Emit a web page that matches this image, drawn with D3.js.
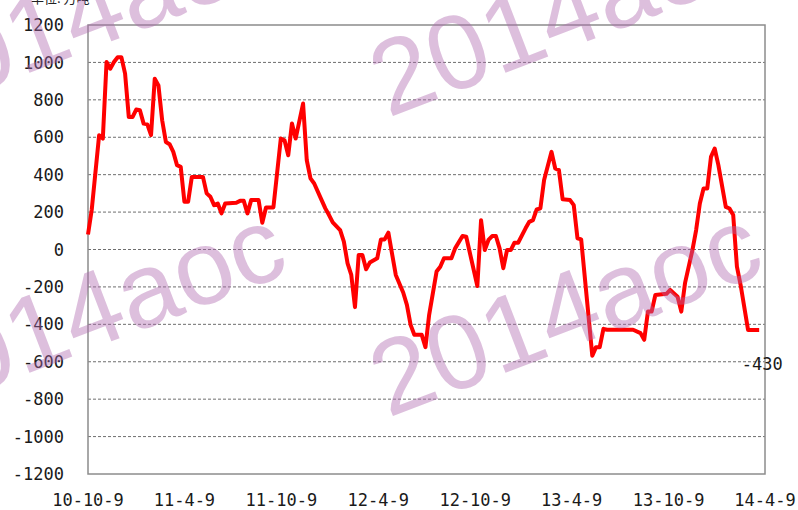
<!DOCTYPE html>
<html lang="zh">
	<head>
		<meta charset="utf-8">
		<title>D3: weekly balance line</title>
		<script type="text/javascript" src="https://cdn.jsdelivr.net/npm/d3@7/dist/d3.min.js"></script>
		<style type="text/css">
			body { margin: 0; background: #fff; }
			text { font-family: "DejaVu Sans Mono", monospace; }
		</style>
	</head>
	<body>
		<script type="text/javascript">

			//Width and height
			let w = 798;
			let h = 510;

			//Data: week number since 2010-10-09, and value (万吨)
			let startDate = "2010-10-09";
			let endDate = "2014-04-09";
			let weeks = [
				0, 1, 3, 4, 5, 6, 7, 8, 9, 10,
				11, 12, 13, 14, 15, 16, 17, 18, 19, 20,
				21, 22, 23, 24, 25, 26, 27, 28, 31, 32,
				33, 34, 35, 36, 37, 40, 41, 42, 43, 44,
				46, 47, 48, 50, 52, 53, 54, 55, 56, 58,
				59, 60, 61, 63, 64, 65, 66, 68, 69, 70,
				71, 72, 73, 74, 75, 76, 78, 79, 80, 81,
				83, 85, 86, 87, 88, 90, 91, 92, 94, 95,
				96, 98, 99, 101, 102, 105, 106, 107, 108, 109,
				110, 111, 112, 113, 114, 115, 116, 118, 119, 120,
				121, 122, 123, 125, 126, 127, 128, 130, 131, 132,
				133, 136, 137, 138, 139, 140, 147, 149, 150, 151,
				152, 153, 156, 157, 159, 160, 161, 163, 164, 165,
				166, 167, 168, 169, 170, 172, 173, 174, 175, 176,
				178, 181
			];
			let values = [
				80, 211, 611, 593, 1002, 966, 1002, 1028, 1028, 940,
				708, 708, 748, 744, 673, 669, 611, 913, 877, 691,
				575, 563, 522, 451, 442, 255, 255, 388, 388, 300,
				282, 237, 246, 193, 246, 250, 260, 260, 193, 264,
				264, 143, 225, 225, 593, 584, 504, 673, 593, 780,
				477, 380, 353, 264, 220, 184, 145, 104, 42, -74,
				-136, -308, -29, -29, -106, -70, -47, 54, 54, 90,
				-136, -230, -296, -403, -456, -456, -522, -349, -118, -92,
				-47, -47, 6, 72, 68, -195, 157, -3, 51, 72,
				72, 6, -100, -3, -3, 36, 36, 113, 148, 157,
				214, 220, 371, 522, 433, 424, 268, 264, 237, 60,
				54, -568, -522, -522, -424, -429, -429, -447, -483, -332,
				-332, -243, -237, -216, -252, -332, -180, -3, 104, 246,
				326, 326, 495, 540, 451, 228, 219, 184, -92, -190,
				-430, -430
			];
			let lastLabel = "-430";

			//Axis ticks
			let xTicks = ["2010-10-09", "2011-04-09", "2011-10-09", "2012-04-09",
			              "2012-10-09", "2013-04-09", "2013-10-09", "2014-04-09"];
			let yTicks = [-1200, -1000, -800, -600, -400, -200, 0, 200, 400, 600, 800, 1000, 1200];
			let unitLabel = "单位: 万吨";
			let watermark = "2014aoc";

			let parseDate = d3.timeParse("%Y-%m-%d");
			let formatTick = d3.timeFormat("%y-%-m-%-d");
			let start = parseDate(startDate);

			let data = weeks.map((wk, i) => ({
				date: d3.timeDay.offset(start, wk * 7),
				value: values[i]
			}));

			//Plot area
			let plotL = 88, plotR = 765, plotT = 25, plotB = 474;

			let x = d3.scaleTime()
						.domain([start, parseDate(endDate)])
						.range([plotL, plotR]);

			let y = d3.scaleLinear()
						.domain([-1200, 1200])
						.range([plotB, plotT]);

			//Create SVG element
			let svg = d3.select("body")
						.append("svg")
						  .attr("width", w)
						  .attr("height", h);

			//Unit label (only its lower edge shows, as in the source)
			svg.append("text")
				.attr("x", 31)
				.attr("y", 3)
				.style("font-family", "'Noto Sans CJK SC'")
				.style("font-size", "13px")
				.style("fill", "#222")
				.text(unitLabel);

			//Dashed grid lines
			svg.append("g")
				.selectAll("line")
				.data(yTicks.filter(d => d > -1200 && d < 1200))
				.enter()
			  .append("line")
				.attr("x1", plotL)
				.attr("x2", plotR)
				.attr("y1", d => y(d))
				.attr("y2", d => y(d))
				.style("stroke", "#6e6e6e")
				.style("stroke-width", 1)
				.style("stroke-dasharray", "3,2");

			//Frame
			svg.append("rect")
				.attr("x", plotL)
				.attr("y", plotT)
				.attr("width", plotR - plotL)
				.attr("height", plotB - plotT)
				.style("fill", "none")
				.style("stroke", "#8c8c8c")
				.style("stroke-width", 1.5);

			//Y labels
			svg.append("g")
				.selectAll("text")
				.data(yTicks)
				.enter()
			  .append("text")
				.attr("x", 64)
				.attr("y", d => y(d))
				.attr("dy", "0.36em")
				.attr("text-anchor", "end")
				.style("font-size", "17px")
				.style("fill", "#1a1a1a")
				.text(d => d);

			//X labels
			svg.append("g")
				.selectAll("text")
				.data(xTicks)
				.enter()
			  .append("text")
				.attr("x", d => x(parseDate(d)))
				.attr("y", 500)
				.attr("dy", "0.36em")
				.attr("text-anchor", "middle")
				.style("font-size", "17px")
				.style("fill", "#1a1a1a")
				.text(d => formatTick(parseDate(d)));

			//The line
			let line = d3.line()
						.x(d => x(d.date))
						.y(d => y(d.value));

			svg.append("path")
				.datum(data)
				.attr("d", line)
				.style("fill", "none")
				.style("stroke", "#ff0000")
				.style("stroke-width", 4)
				.style("stroke-linejoin", "round");

			//Last value label
			let last = data[data.length - 1];
			svg.append("text")
				.attr("x", x(last.date) + 3)
				.attr("y", y(last.value) + 40)
				.attr("text-anchor", "middle")
				.style("font-size", "17px")
				.style("fill", "#1a1a1a")
				.text(lastLabel);

			//Tiled watermark on top
			let marks = [[-88, 118], [388, 118], [-88, 418], [388, 418]];
			svg.append("g")
				.selectAll("text")
				.data(marks)
				.enter()
			  .append("text")
				.attr("transform", d => `translate(${d[0]},${d[1]}) rotate(-21)`)
				.style("font-family", "'Liberation Sans', Arial, sans-serif")
				.style("font-size", "106px")
				.style("fill", "rgb(175,105,175)")
				.style("opacity", 0.42)
				.text(watermark);

		</script>
	</body>
</html>
